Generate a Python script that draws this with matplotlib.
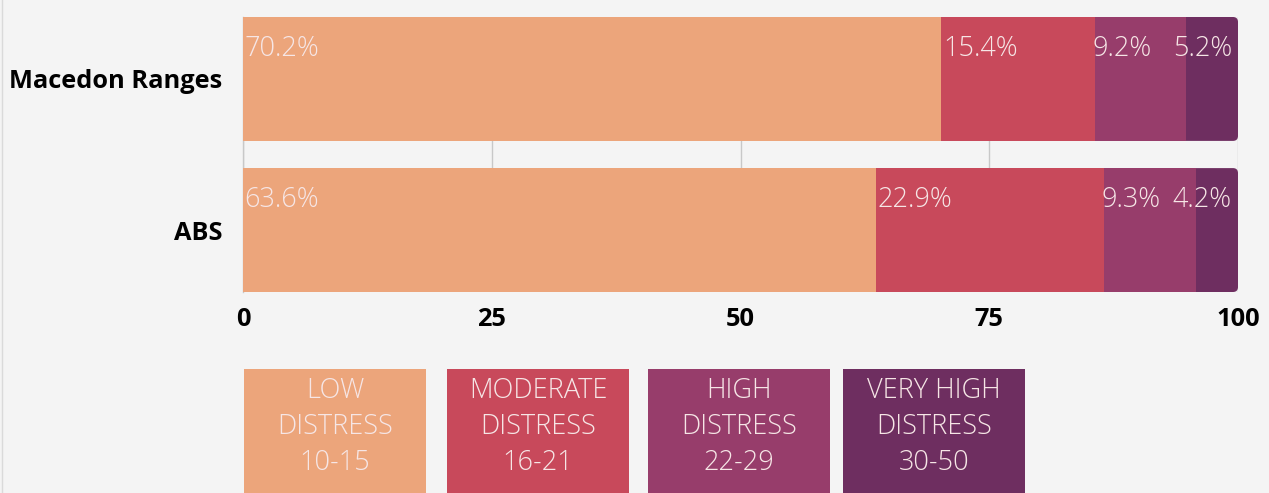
import matplotlib
matplotlib.use("Agg")
import matplotlib.pyplot as plt
from matplotlib.patches import Rectangle, FancyBboxPatch
from matplotlib.lines import Line2D

categories = ["Macedon Ranges", "ABS"]
series_names = ["LOW\nDISTRESS\n10-15", "MODERATE\nDISTRESS\n16-21",
                "HIGH\nDISTRESS\n22-29", "VERY HIGH\nDISTRESS\n30-50"]
low = [70.2, 63.6]
moderate = [15.4, 22.9]
high = [9.2, 9.3]
very_high = [5.2, 4.2]
ticks = [0, 25, 50, 75, 100]
colors = ["#ECA57B", "#C8495B", "#973D6B", "#6E2E60"]
bg = "#F4F4F4"
txt_col = "#F6E6E6"

W, H = 1269, 493
fig = plt.figure(figsize=(W / 100, H / 100), dpi=100, facecolor=bg)
ax_l, ax_r, ax_t, ax_b = 243, 1238, 17, 292
ax = fig.add_axes([ax_l / W, 1 - ax_b / H, (ax_r - ax_l) / W, (ax_b - ax_t) / H])
ax.set_facecolor(bg)

font = "Open Sans"
series = [low, moderate, high, very_high]
bh = 0.82
ypos = list(range(len(categories)))

for i, cat in enumerate(categories):
    lefts = []
    acc = 0
    for s in series:
        lefts.append(acc)
        acc += s[i]
    total = acc
    ext_left = lefts[-2]
    rp = FancyBboxPatch((ext_left, ypos[i] - bh / 2), total - ext_left, bh,
                        boxstyle="round,pad=0,rounding_size=0.5",
                        mutation_aspect=0.066, fc=colors[-1], ec="none", zorder=2)
    ax.add_patch(rp)
    for j, s in enumerate(series[:-1]):
        ax.barh(ypos[i], s[i], left=lefts[j], height=bh, color=colors[j],
                edgecolor="none", zorder=3)
    for j, s in enumerate(series):
        lab = f"{s[i]:.1f}%"
        x = lefts[j] + 0.15
        ha = "left"
        if j == len(series) - 2:
            x = lefts[j] - 0.2
        if j == len(series) - 1:
            x = total - 0.6
            ha = "right"
        ax.annotate(lab, xy=(x, ypos[i] - bh / 2), xytext=(0, -39),
                    textcoords="offset pixels", ha=ha, va="baseline",
                    fontsize=19.5, color=txt_col, family=font, weight="light",
                    zorder=5)

ax.set_xlim(0, 100)
ax.set_ylim(len(categories) - 1 + bh / 2, -bh / 2)
ax.set_xticks(ticks)
ax.set_xticklabels([str(t) for t in ticks], fontsize=18.3, weight="bold",
                   family=font, color="black")
ax.set_yticks(ypos)
ax.set_yticklabels(categories, fontsize=18.3, weight="bold", family=font,
                   color="black")
ax.tick_params(axis="x", length=0, pad=11)
ax.tick_params(axis="y", length=0, pad=15)
ax.grid(axis="x", color="#C8C8C8", linewidth=1, zorder=0)
ax.set_axisbelow(True)
for sp in ["top", "right", "bottom"]:
    ax.spines[sp].set_visible(False)
ax.spines["left"].set_color("#C8C8C8")
ax.spines["left"].set_linewidth(1)

fig.add_artist(Line2D([1.5 / W, 1.5 / W], [0, 1], color="#DADADA", lw=1))

box_x = [244, 447, 648, 843]
box_w = 182
box_top = 369
for j, name in enumerate(series_names):
    fig.add_artist(Rectangle((box_x[j] / W, 0), box_w / W, (H - box_top) / H,
                             transform=fig.transFigure, fc=colors[j], ec="none"))
    fig.text((box_x[j] + box_w / 2) / W, 1 - 427 / H, name, ha="center",
             va="center", fontsize=19.5, color=txt_col, family=font,
             weight="light", linespacing=1.4)

fig.savefig("out.png", dpi=100, facecolor=bg)
